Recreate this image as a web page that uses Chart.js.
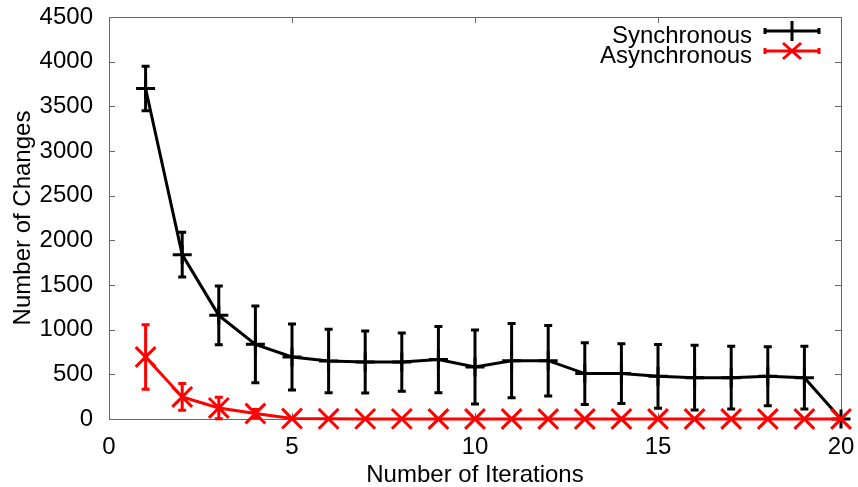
<!DOCTYPE html>
<html>
<head>
<meta charset="utf-8">
<script src="https://cdn.jsdelivr.net/npm/chart.js@4"></script>
<style>
  html, body { margin: 0; padding: 0; background: #fff; }
  #wrap { width: 858px; height: 487px; }
</style>
</head>
<body>
<div id="wrap"><canvas id="changesChart" width="858" height="487"></canvas></div>
<script>
// ── Data ──────────────────────────────────────────────────────────────────────
const iterations = [1, 2, 3, 4, 5, 6, 7, 8, 9, 10, 11, 12, 13, 14, 15, 16, 17, 18, 19, 20];

const syncMean = [3700, 1840, 1160, 836, 694, 649, 638, 638, 665, 582, 653, 653, 508, 508, 478, 463, 463, 478, 463, 0];
const syncErr  = [250, 250, 330, 430, 370, 355, 348, 326, 370, 415, 415, 395, 345, 335, 357, 363, 350, 330, 352, 0];

const asyncMean = [694, 247, 124, 61, 5, 2, 1, 1, 0, 0, 0, 0, 0, 0, 0, 0, 0, 0, 0, 0];
const asyncErr  = [360, 150, 120, 45, 0, 0, 0, 0, 0, 0, 0, 0, 0, 0, 0, 0, 0, 0, 0, 0];

const xTicks = [0, 5, 10, 15, 20];
const yTicks = [0, 500, 1000, 1500, 2000, 2500, 3000, 3500, 4000, 4500];

const seriesNames = ["Synchronous", "Asynchronous"];

// ── Style ─────────────────────────────────────────────────────────────────────
const FONT = "'Liberation Sans', Arial, sans-serif";
const FONT_SIZE = 24;
const TEXT = "#000";
const FRAME = "#666";
const BLACK = "#000";
const RED = "#ff0000";

// ── Plugin: frame, inward ticks, error bars, key ──────────────────────────────
const gnuplotLook = {
  id: "gnuplotLook",

  beforeDatasetsDraw(chart) {
    const { ctx, chartArea: a, scales } = chart;
    const x = scales.x, y = scales.y;
    const tick = 6;

    ctx.save();
    ctx.strokeStyle = FRAME;
    ctx.lineWidth = 1;
    ctx.strokeRect(a.left + 0.5, a.top + 0.5, a.right - a.left, a.bottom - a.top);

    ctx.beginPath();
    xTicks.forEach((v) => {
      const px = Math.round(x.getPixelForValue(v)) + 0.5;
      ctx.moveTo(px, a.bottom); ctx.lineTo(px, a.bottom - tick);
      ctx.moveTo(px, a.top);    ctx.lineTo(px, a.top + tick);
    });
    yTicks.forEach((v) => {
      const py = Math.round(y.getPixelForValue(v)) + 0.5;
      ctx.moveTo(a.left, py);  ctx.lineTo(a.left + tick, py);
      ctx.moveTo(a.right, py); ctx.lineTo(a.right - tick, py);
    });
    ctx.stroke();

    // error bars under each line
    const drawBars = (means, errs, color) => {
      ctx.strokeStyle = color;
      ctx.lineWidth = 3;
      ctx.beginPath();
      iterations.forEach((it, i) => {
        if (!errs[i]) return;
        const px = x.getPixelForValue(it);
        const top = y.getPixelForValue(means[i] + errs[i]);
        const bot = y.getPixelForValue(Math.max(0, means[i] - errs[i]));
        ctx.moveTo(px, top); ctx.lineTo(px, bot);
        ctx.moveTo(px - 4, top); ctx.lineTo(px + 4, top);
        ctx.moveTo(px - 4, bot); ctx.lineTo(px + 4, bot);
      });
      ctx.stroke();
    };
    drawBars(syncMean, syncErr, BLACK);
    drawBars(asyncMean, asyncErr, RED);
    ctx.restore();
  },

  afterDraw(chart) {
    const { ctx } = chart;
    const textRight = 752;
    const x0 = 765, x1 = 819, cx = (x0 + x1) / 2;
    const rows = [
      { label: seriesNames[0], color: BLACK, base: 43, mid: 31, mark: "plus" },
      { label: seriesNames[1], color: RED,   base: 63, mid: 51, mark: "cross" },
    ];

    ctx.save();
    ctx.font = `${FONT_SIZE}px ${FONT}`;
    ctx.textAlign = "right";
    ctx.textBaseline = "alphabetic";
    rows.forEach((r) => {
      ctx.fillStyle = TEXT;
      ctx.fillText(r.label, textRight, r.base);

      ctx.strokeStyle = r.color;
      ctx.lineWidth = 3;
      ctx.beginPath();
      ctx.moveTo(x0, r.mid); ctx.lineTo(x1, r.mid);
      ctx.moveTo(x0, r.mid - 3); ctx.lineTo(x0, r.mid + 3);
      ctx.moveTo(x1, r.mid - 3); ctx.lineTo(x1, r.mid + 3);
      if (r.mark === "plus") {
        ctx.moveTo(cx, r.mid - 10); ctx.lineTo(cx, r.mid + 10);
      } else {
        ctx.moveTo(cx - 9, r.mid - 8); ctx.lineTo(cx + 9, r.mid + 8);
        ctx.moveTo(cx - 9, r.mid + 8); ctx.lineTo(cx + 9, r.mid - 8);
      }
      ctx.stroke();
    });
    ctx.restore();
  },
};

// ── Chart ─────────────────────────────────────────────────────────────────────
const toPoints = (means) => iterations.map((it, i) => ({ x: it, y: means[i] }));
const plainLabel = (v) => String(v);

new Chart(document.getElementById("changesChart"), {
  type: "line",
  data: {
    datasets: [
      {
        label: seriesNames[1],
        data: toPoints(asyncMean),
        borderColor: RED,
        borderWidth: 3,
        pointStyle: "crossRot",
        pointRadius: 14,
        pointBorderWidth: 3,
        pointBorderColor: RED,
        tension: 0,
        clip: false,
        order: 0,
      },
      {
        label: seriesNames[0],
        data: toPoints(syncMean),
        borderColor: BLACK,
        borderWidth: 3,
        pointStyle: "cross",
        pointRadius: 9.5,
        pointBorderWidth: 3,
        pointBorderColor: BLACK,
        tension: 0,
        clip: false,
        order: 1,
      },
    ],
  },
  options: {
    responsive: false,
    animation: false,
    events: [],
    layout: { padding: { top: 16, right: 12, left: 0, bottom: 0 } },
    plugins: {
      legend: { display: false },
      tooltip: { enabled: false },
    },
    scales: {
      x: {
        type: "linear",
        min: 0,
        max: 20,
        afterBuildTicks: (s) => { s.ticks = xTicks.map((v) => ({ value: v })); },
        afterFit: (s) => { s.height = 68; s.paddingLeft = 0; s.paddingRight = 0; },
        grid: { display: false, drawTicks: false },
        border: { display: false },
        ticks: { color: TEXT, padding: 14, font: { family: FONT, size: FONT_SIZE }, maxRotation: 0, callback: plainLabel },
        title: {
          display: true,
          text: "Number of Iterations",
          color: TEXT,
          font: { family: FONT, size: FONT_SIZE },
          padding: { top: 0, bottom: -3 },
        },
      },
      y: {
        type: "linear",
        min: 0,
        max: 4500,
        afterBuildTicks: (s) => { s.ticks = yTicks.map((v) => ({ value: v })); },
        afterFit: (s) => { s.width = 109; s.paddingTop = 0; s.paddingBottom = 0; },
        grid: { display: false, drawTicks: false },
        border: { display: false },
        ticks: { color: TEXT, padding: 16, font: { family: FONT, size: FONT_SIZE }, callback: plainLabel },
        title: {
          display: true,
          text: "Number of Changes",
          color: TEXT,
          font: { family: FONT, size: FONT_SIZE },
          padding: { top: 9, bottom: 0 },
        },
      },
    },
  },
  plugins: [gnuplotLook],
});
</script>
</body>
</html>
